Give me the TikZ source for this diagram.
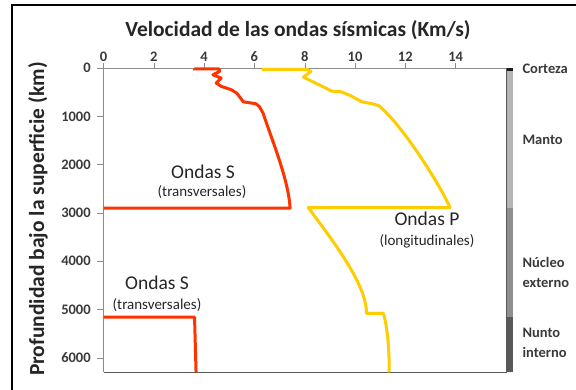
\documentclass[tikz,border=0pt]{standalone}
\usepackage{fontspec}
\setmainfont{Carlito}
\definecolor{swave}{HTML}{FF3300}
\definecolor{pwave}{HTML}{FFCC00}
\definecolor{axisgray}{HTML}{8C8C8C}
\definecolor{labgray}{HTML}{3A3A3A}
\definecolor{crust}{HTML}{1A1A1A}
\definecolor{mantle}{HTML}{B5B5B5}
\definecolor{outcore}{HTML}{8F8F8F}
\definecolor{incore}{HTML}{585858}
\tikzset{
  wave/.style={line width=3pt, line join=round},
  ticklab/.style={font=\fontsize{14.5}{16}\selectfont\bfseries, text=labgray},
  layerlab/.style={anchor=west, align=left, font=\fontsize{14.5}{20}\selectfont\bfseries, text=labgray},
  wavename/.style={font=\fontsize{19.5}{22}\selectfont, text=black!85},
  wavenote/.style={font=\fontsize{15}{17}\selectfont, text=black!85},
  axistitle/.style={font=\fontsize{21.5}{24}\selectfont\bfseries, text=black!85},
}
\begin{document}
\begin{tikzpicture}[x=1pt,y=-1pt]
\useasboundingbox (0,0) rectangle (576,389);
\fill[white] (0,0) rectangle (576,389);
\draw[line width=2.5pt] (12,400) -- (12,5) -- (590,5);

\node[axistitle] (title) at (298,30) {Velocidad de las ondas sísmicas (Km/s)};
\node[axistitle, rotate=90] (ytitle) at (38,219) {Profundidad bajo la superficie (km)};

\begin{scope}[shift={(103.5,68)}, x=25.15pt, y=-48.3pt]
\def\plotright{16}
\def\plotbottom{6.3}

% capas de la Tierra
\fill[crust] (\plotright,0) rectangle (16.28,0.06);
\fill[mantle] (\plotright,0.06) rectangle (16.28,2.89);
\fill[outcore] (\plotright,2.89) rectangle (16.28,5.15);
\fill[incore] (\plotright,5.15) rectangle (16.28,\plotbottom);

\draw[black!65, line width=0.8pt] (\plotright,0) -- (\plotright,\plotbottom) -- (0,\plotbottom);
\draw[axisgray, line width=1pt] (0,\plotbottom) -- (0,0) -- (\plotright,0);
\foreach \v in {0,2,...,14}
  \draw[axisgray] (\v,0) -- (\v,-0.1) node[above, ticklab, inner sep=1pt] {\v};
\foreach \d/\lab in {0/0,1/1000,2/2000,3/3000,4/4000,5/5000,6/6000}
  \draw[axisgray] (0,\d) -- (-0.25,\d) node[left, ticklab, xshift=-3pt] {\lab};

% ondas S
\draw[wave, swave] (3.62,0.05) -- (3.62,0.02) -- (4.6,0.02) -- (4.62,0.07)
  -- (4.35,0.14) -- (4.68,0.21) -- (4.48,0.31) -- (4.68,0.38) -- (5.08,0.45)
  -- (5.3,0.52) -- (5.56,0.70) -- (6.06,0.74) -- (6.2,0.80) -- (6.35,0.94)
  .. controls (6.7,1.5) and (7.35,2.3) .. (7.42,2.9) -- (0,2.9);
\draw[wave, swave] (0,5.16) -- (3.62,5.16) -- (3.68,\plotbottom);

% ondas P
\draw[wave, pwave] (6.3,0.03) -- (8.1,0.03) -- (8.25,0.07) -- (7.95,0.19)
  -- (8.34,0.29) -- (8.74,0.39) -- (9.07,0.48) -- (9.4,0.485) -- (9.8,0.566)
  -- (10.27,0.70) -- (10.66,0.738) -- (10.93,0.775)
  .. controls (11.8,1.13) and (13.3,2.34) .. (13.78,2.89) -- (8.14,2.89)
  .. controls (9.3,3.7) and (10.45,4.5) .. (10.46,5.08) -- (11.13,5.08)
  .. controls (11.3,5.4) and (11.36,5.8) .. (11.36,\plotbottom);
\end{scope}

\node[wavename] (supper) at (203,172) {Ondas S};
\node[wavenote] (supperdesc) at (202,192) {(transversales)};
\node[wavename] (plabel) at (427,219) {Ondas P};
\node[wavenote] (plabeldesc) at (427,241) {(longitudinales)};
\node[wavename] (slower) at (157,283) {Ondas S};
\node[wavenote] (slowerdesc) at (157,305) {(transversales)};

\node[layerlab] (corteza) at (519,69) {Corteza};
\node[layerlab] (manto) at (519,140) {Manto};
\node[layerlab] (nucleo) at (519,272) {Núcleo\\externo};
\node[layerlab] (nunto) at (519,343) {Nunto\\interno};
\end{tikzpicture}
\end{document}
